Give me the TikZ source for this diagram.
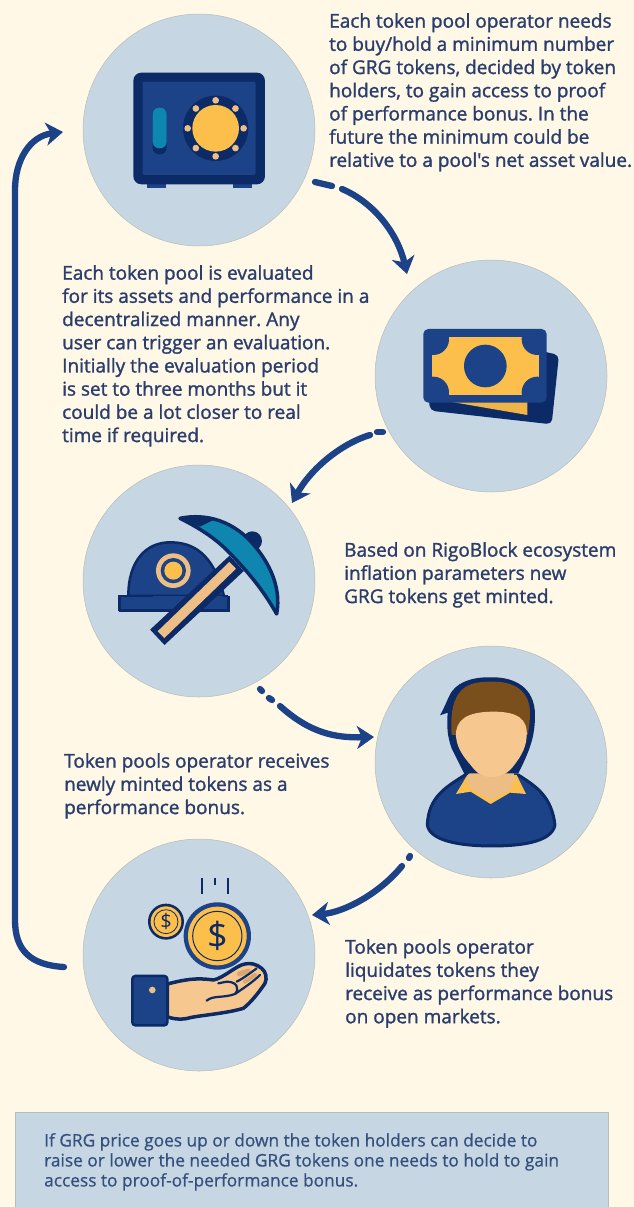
\documentclass[tikz,border=0pt]{standalone}
\usepackage{fontspec}
\usetikzlibrary{arrows.meta}
\newfontfamily\lblfont[FakeBold=1.4]{Open Sans}
\newfontfamily\boxfont[FakeBold=0.7]{Open Sans}
\newfontfamily\coinfont{Open Sans}
\frenchspacing
\definecolor{bgc}{HTML}{FFF8E6}
\definecolor{bub}{HTML}{C6D6E2}
\definecolor{bubedge}{HTML}{B8BDB8}
\definecolor{navy}{HTML}{0C2A66}
\definecolor{midb}{HTML}{1C4288}
\definecolor{yel}{HTML}{FDBF4B}
\definecolor{teal}{HTML}{0E86B0}
\definecolor{skin}{HTML}{F6C88F}
\definecolor{tan}{HTML}{EDBE85}
\definecolor{brown}{HTML}{7A4F1C}
\definecolor{txt}{HTML}{2A3E6E}
\definecolor{txtb}{HTML}{35507F}
\tikzset{
  bubble/.style={circle,fill=bub,draw=bubedge,line width=.5pt,minimum size=232pt,inner sep=0pt},
  lbl/.style={anchor=north west,inner sep=0pt,align=left,text=txt,font=\fontsize{19}{23.2}\lblfont\selectfont},
  boxlbl/.style={anchor=north west,inner sep=0pt,align=left,text=txtb,font=\fontsize{17.3}{20}\boxfont\selectfont},
  conn/.style={draw=midb,line width=6.3pt,line cap=round,-{Stealth[length=17pt,width=23pt,inset=5pt]}},
  dot/.style={draw=midb,line width=6.3pt,line cap=round},
  icon/.style={x=.3333pt,y=-.3333pt},
}
\begin{document}
\begin{tikzpicture}[x=1pt,y=-1pt]
\path[use as bounding box,fill=bgc] (0,0) rectangle (634,1207);
\node[bubble] (c1) at (199,130) {};
\node[bubble] (c2) at (491,376) {};
\node[bubble] (c3) at (199,581) {};
\node[bubble] (c4) at (491,762) {};
\node[bubble] (c5) at (199,955) {};
\node[draw=bubedge,fill=bub,line width=.5pt,rectangle,minimum width=593pt,minimum height=97pt,inner sep=0pt,anchor=north west] (box) at (15,1112) {};
% labels
\node[lbl] (t1) at (329,13) {Each token pool operator needs\\to buy/hold a minimum number\\of GRG tokens, decided by token\\holders, to gain access to proof\\of performance bonus. In the\\future the minimum could be\\relative to a pool's net asset value.};
\node[lbl] (t2) at (62,265) {Each token pool is evaluated\\for its assets and performance in a\\decentralized manner. Any\\user can trigger an evaluation.\\Initially the evaluation period\\is set to three months but it\\could be a lot closer to real\\time if required.};
\node[lbl] (t3) at (344,542) {Based on RigoBlock ecosystem\\inflation parameters new\\GRG tokens get minted.};
\node[lbl] (t4) at (64,753) {Token pools operator receives\\newly minted tokens as a\\performance bonus.};
\node[lbl] (t5) at (345,939) {Token pools operator\\liquidates tokens they\\receive as performance bonus\\on open markets.};
\node[boxlbl] (t6) at (44,1133) {If GRG price goes up or down the token holders can decide to\\raise or lower the needed GRG tokens one needs to hold to gain\\access to proof-of-performance bonus.};
% connector ends
\coordinate (d1a) at (315,182); \coordinate (d1b) at (332,186);
\coordinate (s12) at (342,189); \coordinate (e12) at (407,274);
\coordinate (d2a) at (377,432); \coordinate (d2b) at (383,432);
\coordinate (s23) at (370,435); \coordinate (e23) at (292,503);
\coordinate (d3a) at (260,689); \coordinate (d3b) at (262,691);
\coordinate (d3c) at (269,698); \coordinate (d3d) at (272,700);
\coordinate (s34) at (280,706); \coordinate (e34) at (374,737);
\coordinate (d4a) at (410,856); \coordinate (d4b) at (409,858);
\coordinate (s45) at (402,866); \coordinate (e45) at (312,915);
\coordinate (s51) at (64,967); \coordinate (e51) at (63,132);
\draw[dot] (d1a) -- (d1b);
\draw[conn] (s12) .. controls (375,203) and (398,235) .. (e12);
\draw[dot] (d2a) -- (d2b);
\draw[conn] (s23) .. controls (340,444) and (310,470) .. (e23);
\draw[dot] (d3a) -- (d3b);
\draw[dot] (d3c) -- (d3d);
\draw[conn] (s34) .. controls (310,733) and (335,738) .. (e34);
\draw[dot] (d4a) -- (d4b);
\draw[conn] (s45) .. controls (380,893) and (345,912) .. (e45);
\draw[conn] (s51) .. controls (30,965) and (15,950) .. (15,920) -- (15,190) .. controls (15,160) and (30,136) .. (e51);
% safe
\begin{scope}[shift={(80,0)},icon]
\fill[midb] (200,550) rectangle (258,564);
\fill[midb] (458,550) rectangle (517,564);
\fill[navy,rounded corners=8pt] (160,218) rectangle (555,553);
\fill[midb,rounded corners=2pt] (188,245) rectangle (527,525);
\fill[navy,rounded corners=6.5pt] (218,323) rectangle (260,463);
\fill[teal,rounded corners=6.5pt] (218,323) rectangle (260,445);
\fill[navy] (407,385) circle (98);
\fill[yel] (407,385) circle (70);
\foreach \a in {0,45,...,315}{\fill[tan] (407,385)++(\a:84) circle (10);}
\end{scope}
% banknotes
\begin{scope}[shift={(370,260)},icon]
\fill[navy,rounded corners=5pt] (500,270) -- (567,285) -- (545,493) -- (180,452) -- (175,400) -- cycle;
\fill[yel!90!brown] (240,425) -- (472,425) -- (472,465) -- cycle;
\fill[midb,rounded corners=5pt] (160,207) rectangle (530,428);
\fill[yel] (185,230) rectangle (507,405);
\begin{scope}
\clip (185,230) rectangle (507,405);
\fill[midb] (190,238) circle (47);
\fill[midb] (502,238) circle (47);
\fill[midb] (190,397) circle (47);
\fill[midb] (502,397) circle (47);
\end{scope}
\fill[midb] (346,318) circle (64);
\end{scope}
% helmet and pick
\begin{scope}[shift={(80,460)},icon]
\fill[midb,draw=navy,line width=2.5pt] (145,408) .. controls (145,300) and (200,247) .. (270,247) .. controls (340,247) and (400,280) .. (432,408) -- cycle;
\fill[midb] (118,408) rectangle (445,452);
\draw[navy,line width=2.5pt] (118,452) -- (445,452) -- (445,408);
\draw[navy,line width=2.5pt] (445,408) -- (430,408);
\draw[navy,line width=2.5pt] (118,452) -- (118,408) -- (218,408);
\fill[tan] (280,332) circle (52);
\fill[midb] (280,332) circle (38);
\fill[yel] (280,332) circle (27);
\draw[navy,line width=21pt] (232,532) -- (470,310);
\draw[tan,line width=9.5pt] (243,524) -- (458,316);
\fill[navy] (517,243) circle (29);
\fill[teal,draw=navy,line width=3.5pt,line join=round] (300,175) .. controls (400,155) and (480,200) .. (530,265) .. controls (590,340) and (600,410) .. (590,462) .. controls (550,390) and (500,330) .. (440,270) .. controls (400,230) and (350,200) .. (300,175) -- cycle;
\fill[navy] (296,175) .. controls (330,170) and (370,170) .. (400,180) -- (360,200) -- cycle;
\end{scope}
% person
\begin{scope}[shift={(370,640)},icon]
\fill[midb,draw=navy,line width=3pt,line join=round] (285,405) .. controls (230,440) and (175,470) .. (172,555) .. controls (180,610) and (300,618) .. (365,618) .. controls (440,618) and (545,610) .. (555,555) .. controls (545,470) and (500,440) .. (445,405) -- cycle;
\fill[yel] (292,405) -- (258,462) -- (302,455) -- (362,492) -- (420,458) -- (468,462) -- (440,405) -- cycle;
\fill[skin!92!brown] (305,370) -- (425,370) -- (435,418) -- (420,450) -- (362,480) -- (300,445) -- (290,420) -- cycle;
\fill[navy] (285,405) -- (245,325) .. controls (232,290) and (230,260) .. (233,218) -- (210,226) .. controls (225,200) and (235,170) .. (245,155) .. controls (270,120) and (320,110) .. (370,112) .. controls (430,112) and (495,140) .. (495,225) .. controls (495,290) and (480,330) .. (445,400) -- (420,400) -- (300,400) -- cycle;
\fill[brown] (245,285) .. controls (240,220) and (250,175) .. (275,150) .. controls (300,125) and (340,125) .. (370,125) .. controls (430,125) and (480,150) .. (480,220) .. controls (480,240) and (478,260) .. (473,285) -- cycle;
\fill[skin] (258,290) .. controls (255,240) and (290,215) .. (370,215) .. controls (440,215) and (475,235) .. (470,290) .. controls (468,330) and (445,360) .. (425,385) .. controls (395,420) and (335,420) .. (310,385) .. controls (285,355) and (262,330) .. (258,290) -- cycle;
\end{scope}
% hand and coins
\begin{scope}[shift={(80,840)},icon]
\draw[navy,line width=2.3pt] (365,115) -- (365,163);
\draw[navy,line width=2.3pt] (405,115) -- (405,135);
\draw[navy,line width=2.3pt] (445,115) -- (445,163);
\fill[navy] (258,245) circle (54);
\fill[yel] (258,245) circle (46);
\draw[navy,line width=.8pt] (258,245) circle (36);
\node[text=navy,inner sep=0pt,font=\fontsize{20}{20}\coinfont\selectfont] (s1) at (258,245) {\$};
\fill[midb] (412,288) circle (101);
\fill[yel] (412,288) circle (88);
\draw[navy,line width=1pt] (412,288) circle (74);
\node[text=navy,inner sep=0pt,font=\fontsize{36}{36}\coinfont\selectfont] (s2) at (412,288) {\$};
\fill[skin,draw=navy,line width=3.5pt,line join=round] (262,432) .. controls (310,420) and (345,412) .. (400,420) .. controls (430,415) and (470,375) .. (495,372) .. controls (510,368) and (530,372) .. (545,385) .. controls (558,395) and (562,415) .. (555,430) .. controls (535,460) and (510,490) .. (490,505) .. controls (440,520) and (370,525) .. (330,533) .. controls (310,540) and (280,538) .. (262,530) -- cycle;
\draw[tan!80!brown,line width=5pt,line cap=round] (478,402) -- (505,393);
\draw[tan!80!brown,line width=4pt,line cap=round] (495,425) -- (525,405);
\draw[navy,line width=2.2pt,line cap=round] (380,482) .. controls (400,465) and (430,475) .. (465,462) .. controls (480,445) and (470,425) .. (440,425) -- (415,430);
\draw[navy,line width=2.2pt,line cap=round] (465,462) .. controls (490,445) and (520,425) .. (540,405);
\draw[navy,line width=2.2pt,line cap=round] (470,425) .. controls (490,415) and (510,400) .. (530,385);
\fill[midb,draw=navy,line width=2.5pt,rounded corners=3pt] (157,408) rectangle (262,556);
\fill[tan] (217,450) circle (10);
\end{scope}
\end{tikzpicture}
\end{document}
